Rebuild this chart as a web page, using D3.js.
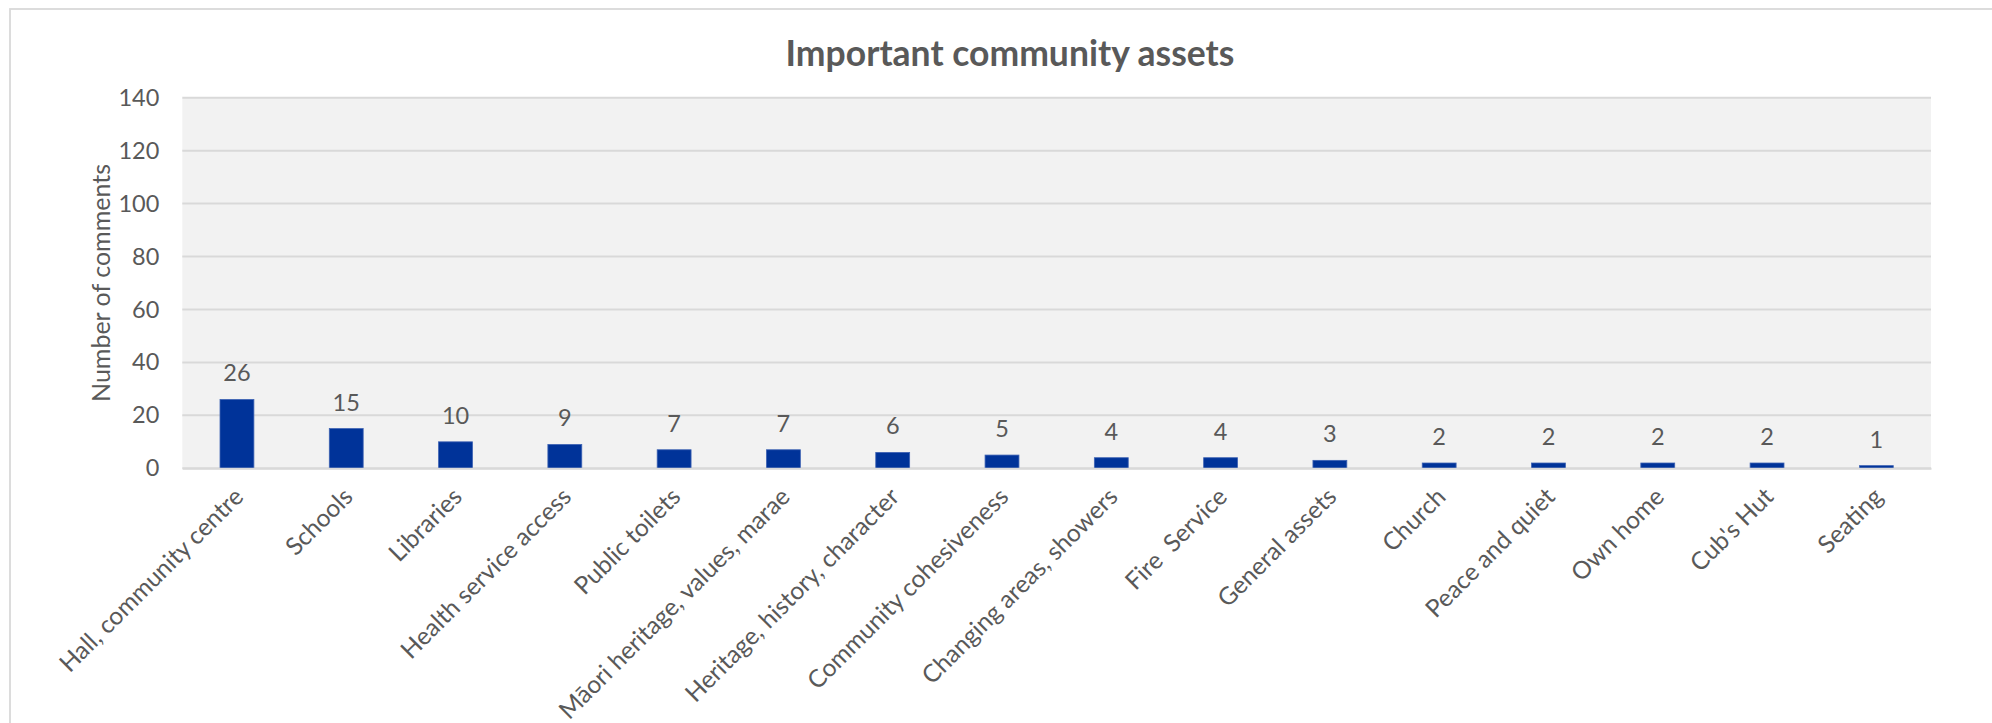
<!DOCTYPE html>
<html>
<head>
<meta charset="utf-8">
<script src="https://cdn.jsdelivr.net/npm/d3@7"></script>
<style>
  html, body { margin: 0; padding: 0; background: #ffffff; }
  svg { display: block; }
  text { font-family: Lato, "Open Sans", sans-serif; fill: #595959; white-space: pre; }
</style>
</head>
<body>
<svg id="chart" width="1992" height="723"></svg>
<script>
// Survey results: community assets people mentioned most often
const categories = [
  "Hall, community centre",
  "Schools",
  "Libraries",
  "Health service access",
  "Public toilets",
  "Māori heritage, values, marae",
  "Heritage, history, character",
  "Community cohesiveness",
  "Changing areas, showers",
  "Fire  Service",
  "General assets",
  "Church",
  "Peace and quiet",
  "Own home",
  "Cub's Hut",
  "Seating"
];
const comments = [26, 15, 10, 9, 7, 7, 6, 5, 4, 4, 3, 2, 2, 2, 2, 1];
const yTicks = [0, 20, 40, 60, 80, 100, 120, 140];
const chartTitle = "Important community assets";
const yAxisTitle = "Number of comments";

const plot = { left: 182.3, right: 1931, top: 97.7, bottom: 468.3 };

const svg = d3.select("#chart");

// outer chart frame
svg.append("rect")
  .attr("x", 10).attr("y", 9)
  .attr("width", 2100).attr("height", 900)
  .attr("fill", "#ffffff")
  .attr("stroke", "#d9d9d9").attr("stroke-width", 1.8);

const x = d3.scaleBand()
  .domain(categories)
  .range([plot.left, plot.right])
  .paddingInner(0.69)
  .paddingOuter(0.345);

const y = d3.scaleLinear()
  .domain([0, 140])
  .range([plot.bottom, plot.top]);

// plot background
svg.append("rect")
  .attr("x", plot.left).attr("y", plot.top)
  .attr("width", plot.right - plot.left)
  .attr("height", plot.bottom - plot.top)
  .attr("fill", "#f2f2f2");

// horizontal gridlines
svg.append("g")
  .selectAll("line")
  .data(yTicks)
  .join("line")
  .attr("x1", plot.left).attr("x2", plot.right)
  .attr("y1", d => y(d)).attr("y2", d => y(d))
  .attr("stroke", "#d9d9d9").attr("stroke-width", 2);

// y axis labels
const yAxis = svg.append("g")
  .attr("transform", `translate(${plot.left},0)`)
  .call(d3.axisLeft(y).tickValues(yTicks).tickSize(0).tickPadding(23));
yAxis.select(".domain").remove();
yAxis.selectAll("text")
  .attr("font-size", 23.5)
  .style("font-family", "Lato, 'Open Sans', sans-serif")
  .attr("fill", "#595959");

// bars
svg.append("g")
  .selectAll("rect")
  .data(comments)
  .join("rect")
  .attr("x", (d, i) => x(categories[i]))
  .attr("y", d => y(d))
  .attr("width", x.bandwidth())
  .attr("height", d => y(0) - y(d))
  .attr("fill", "#003399")
  .attr("stroke", "#3d62b3")
  .attr("stroke-width", 0.8);

// value labels above the bars
svg.append("g")
  .selectAll("text")
  .data(comments)
  .join("text")
  .attr("x", (d, i) => x(categories[i]) + x.bandwidth() / 2)
  .attr("y", d => y(d) - 18)
  .attr("text-anchor", "middle")
  .attr("font-size", 23.5)
  .attr("fill", "#404040")
  .text(d => d);

// category axis with slanted labels
const xAxis = svg.append("g")
  .attr("transform", `translate(0,${plot.bottom})`)
  .call(d3.axisBottom(x).tickSize(0));
xAxis.select(".domain")
  .attr("stroke", "#d9d9d9").attr("stroke-width", 2);
xAxis.selectAll("text")
  .attr("x", 0).attr("y", 0).attr("dy", 0)
  .attr("text-anchor", "end")
  .attr("transform", "translate(8,30) rotate(-45)")
  .attr("font-size", 24.5)
  .style("font-family", "Lato, 'Open Sans', sans-serif")
  .style("white-space", "pre")
  .attr("fill", "#595959");

// chart title
svg.append("text")
  .attr("x", 1010).attr("y", 65.5)
  .attr("text-anchor", "middle")
  .attr("font-size", 35.5)
  .attr("font-weight", 700)
  .text(chartTitle);

// y axis title
svg.append("text")
  .attr("transform", `translate(110,${(plot.top + plot.bottom) / 2}) rotate(-90)`)
  .attr("text-anchor", "middle")
  .attr("font-size", 25)
  .text(yAxisTitle);
</script>
</body>
</html>
